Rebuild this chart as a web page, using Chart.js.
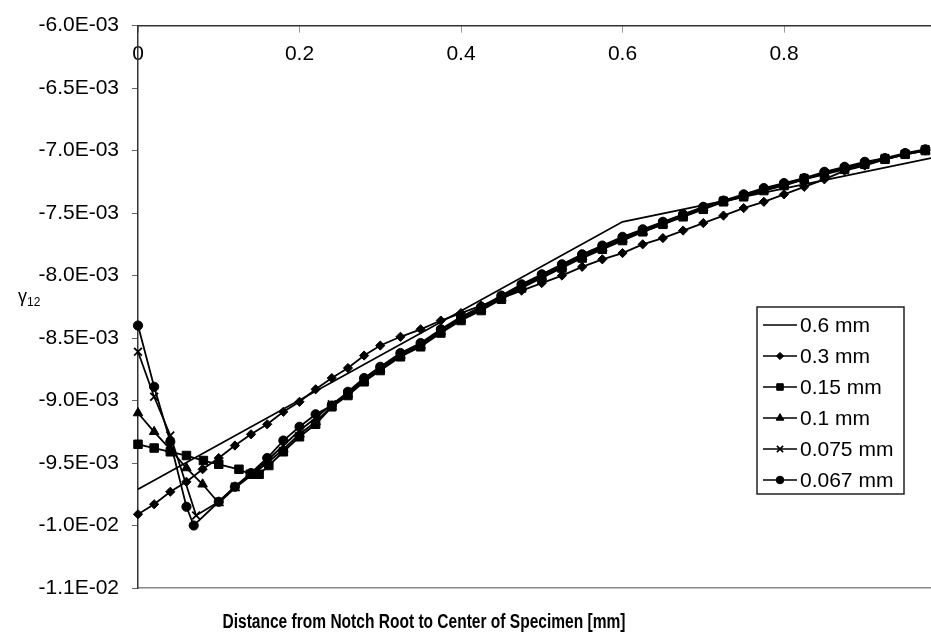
<!DOCTYPE html>
<html>
<head>
<meta charset="utf-8">
<script src="https://cdn.jsdelivr.net/npm/chart.js@4.4.1/dist/chart.umd.min.js"></script>
<style>
  html, body { margin: 0; padding: 0; background: #fff; }
  #wrap { width: 931px; height: 639px; }
</style>
</head>
<body>
<div id="wrap"><canvas id="chart1" width="931" height="639"></canvas></div>
<script>
// shear strain gamma12 along the path, values in units of 1E-03
// x = distance from notch root [mm]

const seriesNames = ['0.6 mm', '0.3 mm', '0.15 mm', '0.1 mm', '0.075 mm', '0.067 mm'];

// 0.6 mm : plain line
const x06 = [0, 0.6, 0.982];
const y06 = [-9.71, -7.57, -7.06];

// 0.3 mm : diamonds
const x03 = [0, 0.02, 0.04, 0.06, 0.08, 0.10, 0.12, 0.14, 0.16, 0.18, 0.20, 0.22, 0.24, 0.26, 0.28, 0.30,
  0.325, 0.35, 0.375, 0.40, 0.425, 0.45, 0.475, 0.50, 0.525, 0.55, 0.575, 0.60, 0.625, 0.65, 0.675,
  0.70, 0.725, 0.75, 0.775, 0.80, 0.825, 0.85, 0.875, 0.90, 0.925, 0.95, 0.975];
const y03 = [-9.91, -9.83, -9.73, -9.65, -9.55, -9.46, -9.36, -9.27, -9.19, -9.09, -9.01, -8.91, -8.82, -8.74, -8.64, -8.56,
  -8.49, -8.43, -8.36, -8.30, -8.24, -8.18, -8.12, -8.06, -8.00, -7.93, -7.87, -7.82, -7.75, -7.70, -7.64,
  -7.58, -7.52, -7.46, -7.41, -7.35, -7.29, -7.23, -7.16, -7.12, -7.07, -7.03, -7.00];

// finer meshes: near-notch part
const xNear015 = [0, 0.02, 0.04, 0.06, 0.081, 0.10, 0.125, 0.139, 0.15, 0.162, 0.18, 0.20, 0.22, 0.24];
const yNear015 = [-9.35, -9.38, -9.41, -9.44, -9.48, -9.51, -9.55, -9.59, -9.59, -9.52, -9.41, -9.29, -9.19, -9.05];

const xNear01 = [0, 0.02, 0.04, 0.06, 0.08, 0.10, 0.12, 0.14, 0.16, 0.18, 0.20, 0.22, 0.24];
const yNear01 = [-9.10, -9.25, -9.39, -9.54, -9.67, -9.82, -9.70, -9.60, -9.50, -9.39, -9.27, -9.17, -9.05];

const xNear075 = [0, 0.02, 0.04, 0.072, 0.10, 0.12, 0.14, 0.16, 0.18, 0.20, 0.22, 0.24];
const yNear075 = [-8.61, -8.97, -9.28, -9.92, -9.81, -9.69, -9.59, -9.48, -9.36, -9.24, -9.14, -9.03];

const xNear067 = [0, 0.02, 0.04, 0.06, 0.069, 0.10, 0.12, 0.14, 0.16, 0.18, 0.20, 0.22, 0.24];
const yNear067 = [-8.40, -8.89, -9.33, -9.85, -10.00, -9.81, -9.69, -9.58, -9.46, -9.32, -9.21, -9.11, -9.04];

// finer meshes: far part (shared nodes)
const xFar = [0.26, 0.28, 0.30, 0.325, 0.35, 0.375, 0.40, 0.425, 0.45, 0.475, 0.50, 0.525, 0.55, 0.575, 0.60,
  0.625, 0.65, 0.675, 0.70, 0.725, 0.75, 0.775, 0.80, 0.825, 0.85, 0.875, 0.90, 0.925, 0.95, 0.975];
const yFar015 = [-8.96, -8.85, -8.76, -8.65, -8.57, -8.46, -8.36, -8.28, -8.19, -8.10, -8.02, -7.94, -7.86, -7.79, -7.72,
  -7.65, -7.59, -7.53, -7.47, -7.41, -7.37, -7.32, -7.28, -7.23, -7.19, -7.15, -7.11, -7.07, -7.03, -7.00];
const yFar01 = [-8.95, -8.84, -8.75, -8.64, -8.56, -8.45, -8.35, -8.27, -8.18, -8.09, -8.01, -7.93, -7.85, -7.78, -7.71,
  -7.65, -7.59, -7.52, -7.46, -7.41, -7.36, -7.31, -7.27, -7.23, -7.18, -7.14, -7.10, -7.07, -7.03, -7.00];
const yFar075 = [-8.94, -8.83, -8.74, -8.63, -8.55, -8.44, -8.34, -8.26, -8.17, -8.08, -8.00, -7.92, -7.84, -7.77, -7.70,
  -7.64, -7.58, -7.52, -7.46, -7.40, -7.36, -7.31, -7.27, -7.22, -7.18, -7.14, -7.10, -7.06, -7.03, -6.99];
const yFar067 = [-8.93, -8.82, -8.73, -8.62, -8.54, -8.43, -8.33, -8.25, -8.16, -8.07, -7.99, -7.91, -7.83, -7.76, -7.69,
  -7.63, -7.57, -7.51, -7.45, -7.40, -7.35, -7.30, -7.26, -7.22, -7.17, -7.13, -7.09, -7.06, -7.02, -6.99];

// axes
const xTicks = [0, 0.2, 0.4, 0.6, 0.8];
const xLabels = ['0', '0.2', '0.4', '0.6', '0.8'];
const yTicks = [-6, -6.5, -7, -7.5, -8, -8.5, -9, -9.5, -10, -10.5];
const yLabels = ['-6.0E-03', '-6.5E-03', '-7.0E-03', '-7.5E-03', '-8.0E-03', '-8.5E-03', '-9.0E-03', '-9.5E-03', '-1.0E-02', '-1.1E-02'];
const xTitle = 'Distance from Notch Root to Center of Specimen [mm]';

const FONT = '"Liberation Sans", Arial, sans-serif';

function pts(xs, ys) {
  return xs.map(function (x, i) { return { x: x, y: ys[i] }; });
}

// marker style per series (legend uses the smaller size)
const styles = [
  { pointStyle: 'circle', radius: 0, legendRadius: 0 },
  { pointStyle: 'rectRot', radius: 4.6, legendRadius: 3.6 },
  { pointStyle: 'rect', radius: 6, legendRadius: 4.6 },
  { pointStyle: 'triangle', radius: 5.5, legendRadius: 4.4 },
  { pointStyle: 'crossRot', radius: 5.5, legendRadius: 4.4 },
  { pointStyle: 'circle', radius: 4.6, legendRadius: 3.8 }
];

const seriesData = [
  pts(x06, y06),
  pts(x03, y03),
  pts(xNear015.concat(xFar), yNear015.concat(yFar015)),
  pts(xNear01.concat(xFar), yNear01.concat(yFar01)),
  pts(xNear075.concat(xFar), yNear075.concat(yFar075)),
  pts(xNear067.concat(xFar), yNear067.concat(yFar067))
];

const datasets = seriesData.map(function (d, i) {
  return {
    label: seriesNames[i],
    data: d,
    borderColor: '#000',
    backgroundColor: '#000',
    borderWidth: 1.8,
    pointStyle: styles[i].pointStyle,
    pointRadius: styles[i].radius,
    pointHoverRadius: styles[i].radius,
    pointBorderWidth: i === 4 ? 1.8 : 1,
    pointBorderColor: '#000',
    pointBackgroundColor: '#000',
    tension: 0,
    clip: 8
  };
});

// legend box, axis titles
const extras = {
  id: 'extras',
  afterDatasetsDraw(chart) {
    const ctx = chart.ctx;

    // x axis title (narrow bold face in the original)
    ctx.save();
    ctx.font = 'bold 20px ' + FONT;
    ctx.fillStyle = '#000';
    ctx.textAlign = 'center';
    ctx.textBaseline = 'middle';
    const w = ctx.measureText(xTitle).width;
    ctx.translate(424, 622);
    ctx.scale(403 / w, 1);
    ctx.fillText(xTitle, 0, 0);
    ctx.restore();

    // y axis title gamma_12
    ctx.save();
    ctx.fillStyle = '#000';
    ctx.textBaseline = 'alphabetic';
    ctx.textAlign = 'left';
    ctx.font = '18px ' + FONT;
    ctx.fillText('\u03B3', 18, 302);
    ctx.font = '12px ' + FONT;
    ctx.fillText('12', 27, 306);
    ctx.restore();

    // legend
    ctx.save();
    const bx = 757, by = 307, bw = 147, bh = 187;
    ctx.fillStyle = '#fff';
    ctx.fillRect(bx, by, bw, bh);
    ctx.strokeStyle = '#222';
    ctx.lineWidth = 1.5;
    ctx.strokeRect(bx, by, bw, bh);
    ctx.font = '21px ' + FONT;
    ctx.textAlign = 'left';
    ctx.textBaseline = 'middle';
    for (let i = 0; i < seriesNames.length; i++) {
      const y = 325 + i * 31;
      ctx.strokeStyle = '#000';
      ctx.lineWidth = 1.6;
      ctx.beginPath();
      ctx.moveTo(763, y);
      ctx.lineTo(797, y);
      ctx.stroke();
      if (styles[i].legendRadius > 0) {
        ctx.fillStyle = '#000';
        ctx.lineWidth = i === 4 ? 1.6 : 1;
        Chart.helpers.drawPoint(ctx, {
          pointStyle: styles[i].pointStyle,
          radius: styles[i].legendRadius,
          borderWidth: 1,
          rotation: 0
        }, 780, y);
      }
      ctx.fillStyle = '#000';
      ctx.fillText(seriesNames[i], 800, y + 1);
    }
    ctx.restore();
  }
};

const config = {
  type: 'line',
  data: { datasets: datasets },
  options: {
    responsive: false,
    animation: false,
    events: [],
    layout: { autoPadding: false, padding: { left: 0, right: 0, top: 18, bottom: 51 } },
    plugins: {
      legend: { display: false },
      tooltip: { enabled: false },
      title: { display: false }
    },
    scales: {
      x: {
        type: 'linear',
        position: 'top',
        min: 0,
        max: 0.982,
        afterBuildTicks: function (scale) {
          scale.ticks = xTicks.map(function (v) { return { value: v }; });
        },
        afterFit: function (scale) { scale.height = 0; },
        border: { display: true, color: '#333', width: 1.5 },
        grid: { display: true, drawOnChartArea: false, drawTicks: true, tickLength: -7, color: '#999' },
        ticks: {
          mirror: true,
          padding: 16,
          autoSkip: false,
          maxRotation: 0,
          color: '#000',
          font: { family: FONT, size: 21 },
          callback: function (v) { return xLabels[xTicks.indexOf(v)]; }
        }
      },
      x2: {
        type: 'linear',
        position: 'bottom',
        min: 0,
        max: 0.982,
        afterFit: function (scale) { scale.height = 0; },
        border: { display: true, color: '#888', width: 1.5 },
        grid: { display: false },
        ticks: { display: false }
      },
      y: {
        type: 'linear',
        min: -10.5,
        max: -6,
        afterBuildTicks: function (scale) {
          scale.ticks = yTicks.map(function (v) { return { value: v }; });
        },
        afterFit: function (scale) { scale.width = 138; },
        border: { display: true, color: '#333', width: 1.5 },
        grid: { display: true, drawOnChartArea: false, drawTicks: true, tickLength: 6, color: '#666' },
        ticks: {
          padding: 13,
          color: '#000',
          font: { family: FONT, size: 21 },
          callback: function (v) { return yLabels[yTicks.indexOf(v)]; }
        }
      }
    }
  },
  plugins: [extras]
};

const myChart = new Chart(document.getElementById('chart1'), config);
</script>
</body>
</html>
